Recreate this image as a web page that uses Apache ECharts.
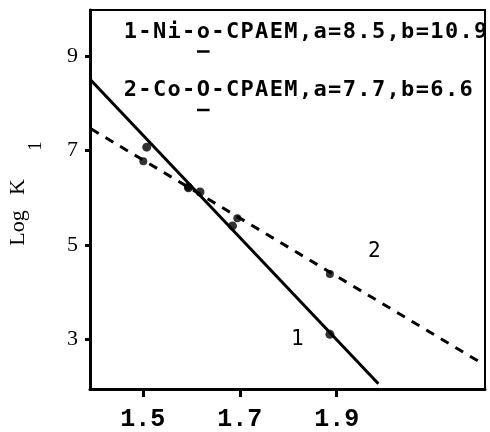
<!DOCTYPE html>
<html>
<head>
<meta charset="utf-8">
<script src="https://cdn.jsdelivr.net/npm/echarts@6/dist/echarts.min.js"></script>
<style>
  html, body { margin: 0; padding: 0; background: #fff; }
  #chart { width: 490px; height: 432px; }
</style>
</head>
<body>
<div id="chart"></div>
<script>
// Axis ranges and ticks
const xRange = [1.391, 2.206];
const yRange = [1.94, 9.98];
const xTicks = [1.5, 1.7, 1.9];
const yTicks = [3, 5, 7, 9];

// Fitted lines (end points) and measured points
const line1 = [[1.391, 8.51], [1.986, 2.05]];          // 1 - Ni complex, solid
const line2 = [[1.393, 7.46], [2.202, 2.47]];          // 2 - Co complex, dashed
const points1 = [[1.508, 7.07], [1.594, 6.21], [1.618, 6.12], [1.685, 5.40], [1.886, 3.10]];
const points2 = [[1.501, 6.77], [1.594, 6.23], [1.695, 5.56], [1.886, 4.38]];

// Legend text lines
const legendLines = ['1-Ni-o-CPAEM,a=8.5,b=10.9', '2-Co-O-CPAEM,a=7.7,b=6.6'];
const underlinedIndex = 5;
const curveLabels = ['1', '2'];
const yTitleParts = ['Log', 'K', '1'];

const ADV = 14.6;          // character advance of the legend text
const LEGEND_X = 123;

function monoRich(str) {
  return str.split('').map(ch => '{c|' + ch + '}').join('');
}

const chart = echarts.init(document.getElementById('chart'), null, { renderer: 'canvas' });

const legendGraphics = [];
[34, 92.5].forEach((y, i) => {
  legendGraphics.push({
    type: 'text',
    left: LEGEND_X, top: y - 13,
    style: {
      text: monoRich(legendLines[i]),
      rich: {
        c: { width: ADV, align: 'center', fontFamily: 'DejaVu Sans Mono', fontWeight: 'bold', fontSize: 22, fill: '#000', lineHeight: 26 }
      }
    },
    z: 10
  });
  legendGraphics.push({
    type: 'line',
    shape: {
      x1: LEGEND_X + underlinedIndex * ADV + 1, y1: y + 17.5,
      x2: LEGEND_X + (underlinedIndex + 1) * ADV - 1, y2: y + 17.5
    },
    style: { stroke: '#000', lineWidth: 2.5 },
    z: 10
  });
});

// rotated y-axis title: "Log K" with subscript 1
const yTitle = {
  type: 'group',
  children: [
    { type: 'text', x: 18, y: 228, rotation: Math.PI / 2,
      style: { text: yTitleParts[0], fontFamily: 'Liberation Serif', fontSize: 22, fill: '#000', align: 'center', verticalAlign: 'middle' } },
    { type: 'text', x: 18, y: 187, rotation: Math.PI / 2,
      style: { text: yTitleParts[1], fontFamily: 'Liberation Serif', fontSize: 22, fill: '#000', align: 'center', verticalAlign: 'middle' } },
    { type: 'text', x: 36, y: 146, rotation: Math.PI / 2,
      style: { text: yTitleParts[2], fontFamily: 'Liberation Serif', fontSize: 18, fill: '#000', align: 'center', verticalAlign: 'middle' } }
  ],
  z: 10
};

const option = {
  backgroundColor: '#fff',
  animation: false,
  grid: {
    left: 90, right: 5, top: 10, bottom: 40,
    show: true, borderColor: '#000', borderWidth: 2
  },
  xAxis: {
    type: 'value', min: xRange[0], max: xRange[1],
    axisLine: { show: true, onZero: false, lineStyle: { color: '#000', width: 3 } },
    axisTick: { show: true, inside: false, length: 8, customValues: xTicks, lineStyle: { color: '#000', width: 3 } },
    axisLabel: {
      customValues: xTicks, margin: 18,
      formatter: v => v.toFixed(1),
      fontFamily: 'Liberation Mono', fontWeight: 'bold', fontSize: 25, color: '#000'
    },
    splitLine: { show: false }
  },
  yAxis: {
    type: 'value', min: yRange[0], max: yRange[1],
    axisLine: { show: true, onZero: false, lineStyle: { color: '#000', width: 3 } },
    axisTick: { show: true, inside: false, length: 5, customValues: yTicks, lineStyle: { color: '#000', width: 3 } },
    axisLabel: {
      customValues: yTicks, margin: 12,
      formatter: v => String(v),
      fontFamily: 'Liberation Serif', fontSize: 22, color: '#000'
    },
    splitLine: { show: false }
  },
  graphic: [
    yTitle,
    {
      type: 'text', left: 291, top: 329,
      style: { text: curveLabels[0], fontFamily: 'DejaVu Sans Mono', fontSize: 21, fill: '#000' }, z: 10
    },
    {
      type: 'text', left: 368, top: 241,
      style: { text: curveLabels[1], fontFamily: 'DejaVu Sans Mono', fontSize: 21, fill: '#000' }, z: 10
    }
  ].concat(legendGraphics),
  series: [
    {
      type: 'line', data: line1, showSymbol: false, silent: true,
      lineStyle: { color: '#000', width: 3 }, z: 3
    },
    {
      type: 'line', data: line2, showSymbol: false, silent: true,
      lineStyle: { color: '#000', width: 3, type: [9, 8] }, z: 3
    },
    {
      type: 'scatter', data: points1, symbolSize: 9,
      itemStyle: { color: '#000' }, z: 4
    },
    {
      type: 'scatter', data: points2, symbolSize: 8,
      itemStyle: { color: '#000' }, z: 4
    }
  ]
};

chart.setOption(option);
</script>
</body>
</html>
